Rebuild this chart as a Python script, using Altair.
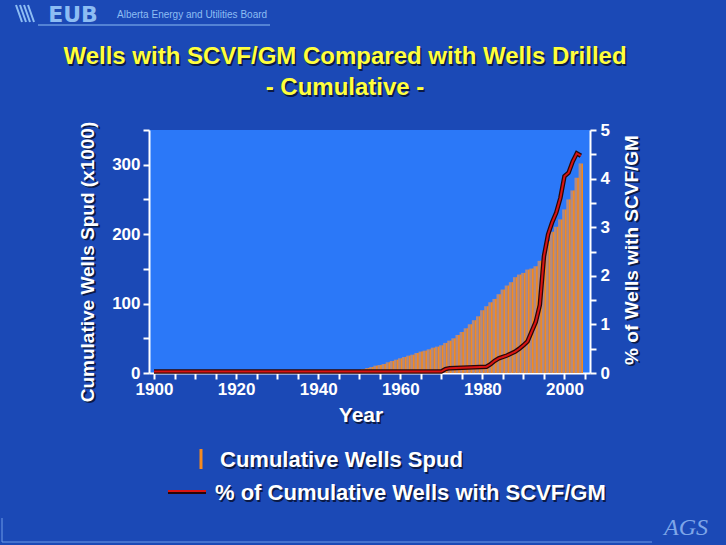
import altair as alt
import pandas as pd

# ---- data ----
bar_years = list(range(1951, 2005))
wells_k = [5.8, 7.2, 8.7, 10.6, 11.5, 13.0, 15.4, 17.3, 19.2, 21.2,
           23.1, 25.0, 26.4, 28.8, 30.8, 32.2, 34.1, 36.5, 38.0, 39.9,
           43.3, 46.6, 50.0, 54.8, 59.1, 64.4, 70.2, 76.0, 81.7, 90.4,
           96.2, 101.9, 106.7, 113.5, 120.2, 126.0, 130.8, 138.0, 141.8, 144.2,
           149.0, 150.5, 153.8, 161.5, 171.6, 189.9, 203.4, 210.6, 221.2, 235.6,
           250.0, 263.0, 281.3, 301.9]

line_years = [1900, 1970, 1971, 1972, 1981, 1982, 1983, 1984, 1985, 1986,
              1987, 1988, 1989, 1990, 1991, 1992, 1993, 1994, 1995, 1996,
              1997, 1998, 1999, 2000, 2001, 2002, 2003, 2004]
pct_scvf = [0.03, 0.03, 0.08, 0.10, 0.13, 0.18, 0.25, 0.30, 0.33, 0.36,
            0.40, 0.44, 0.50, 0.57, 0.65, 0.85, 1.05, 1.40, 2.40, 2.85,
            3.10, 3.30, 3.60, 4.05, 4.12, 4.35, 4.52, 4.47]

x_tick_values = list(range(1900, 2006, 5))
left_tick_values = list(range(0, 351, 50))
right_tick_values = [i * 0.5 for i in range(11)]

title_line1 = "Wells with SCVF/GM Compared with Wells Drilled"
title_line2 = "- Cumulative -"
left_title = "Cumulative Wells Spud (x1000)"
right_title = "% of Wells with SCVF/GM"
x_title = "Year"
legend_bar = "Cumulative Wells Spud"
legend_line = "% of Cumulative Wells with SCVF/GM"

bars_df = pd.DataFrame({"year": bar_years, "wells": wells_k})
line_df = pd.DataFrame({"year": line_years, "pct": pct_scvf})
dummy = pd.DataFrame({"a": [0]})

# ---- layout ----
PL, PT = 149, 130      # plot origin in page pixels
W, H = 441, 243
FONT = "Liberation Sans"
BG = "#1b49b6"
PLOT_BG = "#2b78f8"


def rx(X):
    return X - PL


def ry(Y):
    return Y - PT


xscale = alt.Scale(domain=[1900, 2005], nice=False, zero=False)
axis_style = dict(domainColor="white", domainWidth=2, tickColor="white", tickWidth=2,
                  tickSize=6, labelColor="white", labelFont=FONT, labelFontWeight="bold",
                  labelFontSize=17, grid=False)

xaxis = alt.Axis(values=x_tick_values, format="d",
                 labelExpr="datum.value % 20 == 0 ? datum.label : ''",
                 title=None, labelPadding=2, **axis_style)
left_axis = alt.Axis(values=left_tick_values, format="d",
                     labelExpr="datum.value % 100 == 0 ? datum.label : ''",
                     title=None, labelPadding=3, **axis_style)
right_axis = alt.Axis(values=right_tick_values, orient="right",
                      labelExpr="datum.value % 1 == 0 ? format(datum.value, 'd') : ''",
                      title=None, labelPadding=4, **axis_style)

yl = alt.Scale(domain=[0, 350], nice=False)
yr = alt.Scale(domain=[0, 5], nice=False)

bars_gray = alt.Chart(bars_df).mark_bar(size=2.6, color="#b08a86", xOffset=-1.0).encode(
    x=alt.X("year:Q", scale=xscale, axis=xaxis),
    y=alt.Y("wells:Q", scale=yl, axis=left_axis),
)
bars_orange = alt.Chart(bars_df).mark_bar(size=1.8, color="#f58a1f", xOffset=1.2).encode(
    x=alt.X("year:Q", scale=xscale, axis=xaxis),
    y=alt.Y("wells:Q", scale=yl, axis=left_axis),
)
bars = alt.layer(bars_gray, bars_orange)

line_dark = alt.Chart(line_df).mark_line(color="#2a0606", strokeWidth=4.5).encode(
    x=alt.X("year:Q", scale=xscale, axis=xaxis),
    y=alt.Y("pct:Q", scale=yr, axis=right_axis),
)
line_red = alt.Chart(line_df).mark_line(color="#d81414", strokeWidth=2).encode(
    x=alt.X("year:Q", scale=xscale, axis=xaxis),
    y=alt.Y("pct:Q", scale=yr, axis=right_axis),
)
lines = alt.layer(line_dark, line_red)


def txt(text, X, Y, size, color="white", align="center", angle=0, shadow=True,
        font=FONT, weight="bold", style="normal", sh="#0b1a45", d=1.5):
    layers = []
    if shadow:
        layers.append(alt.Chart(dummy).mark_text(
            text=text, font=font, fontSize=size, fontWeight=weight, fontStyle=style,
            color=sh, align=align, baseline="middle", angle=angle,
        ).encode(x=alt.value(rx(X) + d), y=alt.value(ry(Y) + d)))
    layers.append(alt.Chart(dummy).mark_text(
        text=text, font=font, fontSize=size, fontWeight=weight, fontStyle=style,
        color=color, align=align, baseline="middle", angle=angle,
    ).encode(x=alt.value(rx(X)), y=alt.value(ry(Y))))
    return layers


def rule(X1, Y1, X2, Y2, color, width):
    return alt.Chart(dummy).mark_rule(color=color, strokeWidth=width).encode(
        x=alt.value(rx(X1)), x2=alt.value(rx(X2)),
        y=alt.value(ry(Y1)), y2=alt.value(ry(Y2)))


YELLOW = "#ffff3c"
LIGHT = "#8dbdf3"
deco = []
deco += txt(title_line1, 345, 57, 24, color=YELLOW, d=1.5)
deco += txt(title_line2, 345, 88, 24, color=YELLOW, d=1.5)
deco += txt(left_title, 88, 262, 19, angle=270)
deco += txt(right_title, 632, 250, 19, angle=270)
deco += txt(x_title, 361, 416, 21)
# legend
deco.append(rule(201, 449, 201, 469, "#f58a1f", 3))
deco.append(rule(168, 492, 206, 492, "#2a0606", 4))
deco.append(rule(168, 491, 206, 491, "#d81414", 2))
deco += txt(legend_bar, 220, 460, 22, align="left")
deco += txt(legend_line, 215, 493, 22, align="left")
# header
for i in range(4):
    deco.append(rule(16 + i * 4, 5, 22 + i * 4, 22, LIGHT, 2))
deco += txt("EUB", 73, 15, 22, color=LIGHT, shadow=False, font="DejaVu Sans")
deco += txt("Alberta Energy and Utilities Board", 117, 15, 10, color=LIGHT,
            align="left", shadow=False, weight="normal")
deco.append(rule(38, 25, 270, 25, LIGHT, 1))
# footer
deco.append(rule(2, 518, 2, 542, "#6f9be6", 1))
deco.append(rule(2, 542, 652, 542, "#6f9be6", 1))
deco += txt("AGS", 686, 528, 24, color="#7ea6e8", shadow=False,
            font="Liberation Serif", weight="normal", style="italic")

chart = alt.layer(bars, lines, *deco).resolve_scale(y="independent").properties(
    width=W, height=H,
    autosize=alt.AutoSizeParams(type="none"),
    padding={"left": PL, "top": PT, "right": 726 - PL - W, "bottom": 545 - PT - H},
    background=BG,
).configure_view(fill=PLOT_BG, strokeWidth=0)

chart.save("out.html", embed_options={"renderer": "svg", "actions": False})
